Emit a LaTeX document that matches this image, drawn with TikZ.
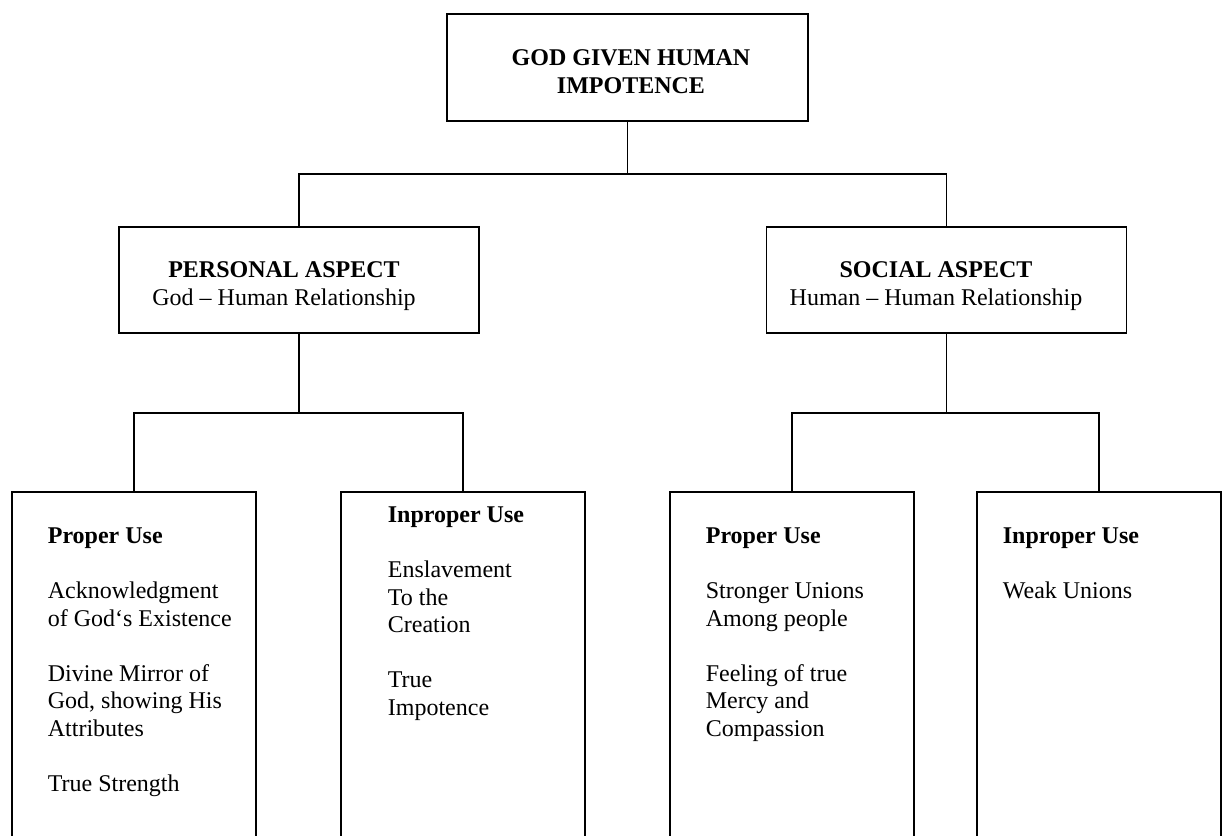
\documentclass[tikz,border=0pt]{standalone}
\usepackage{fontspec}
\setmainfont{Liberation Serif}
\begin{document}
\begin{tikzpicture}[x=0.5pt,y=-0.5pt,line width=0.85pt,
  topbox/.style={draw,minimum width=180.5pt,minimum height=53.5pt,inner sep=0pt},
  midbox/.style={draw,minimum width=180pt,minimum height=53pt,inner sep=0pt},
  lowbox/.style={draw,minimum width=122pt,minimum height=204pt,inner sep=0pt},
  txt/.style={font=\fontsize{12}{13.75}\selectfont,inner sep=0pt},
  ctxt/.style={txt,align=center},
  ltxt/.style={txt,align=left,anchor=north west}]
\fill[white] (0,0) rectangle (1222,836);
\clip (0,0) rectangle (1222,836);
% boxes
\node[topbox] (top) at (627.5,67.5) {};
\node[ctxt] (topT) at (631,71.5) {\textbf{GOD GIVEN HUMAN}\\\textbf{IMPOTENCE}};
\node[midbox] (pers) at (299,280) {};
\node[midbox] (soc) at (946.5,280) {};
\node[ctxt] (persT) at (284,286) {\textbf{PERSONAL ASPECT}\\God – Human Relationship};
\node[ctxt] (socT) at (936,286) {\textbf{SOCIAL ASPECT}\\Human – Human Relationship};
\node[lowbox] (b1) at (134,696) {};
\node[lowbox] (b2) at (463,696) {};
\node[lowbox] (b3) at (792,696) {};
\node[lowbox] (b4) at (1099,696) {};
% texts in lower boxes
\node[ltxt] (t1) at (47,527) {\textbf{Proper Use}\\[13.75pt]Acknowledgment\\of God‘s Existence\\[13.75pt]Divine Mirror of\\God, showing His\\Attributes\\[13.75pt]True Strength};
\node[ltxt] (t2) at (387,506) {\textbf{Inproper Use}\\[13.75pt]Enslavement\\To the\\Creation\\[13.75pt]True\\Impotence};
\node[ltxt] (t3) at (705,527) {\textbf{Proper Use}\\[13.75pt]Stronger Unions\\Among people\\[13.75pt]Feeling of true\\Mercy and\\Compassion};
\node[ltxt] (t4) at (1002,527) {\textbf{Inproper Use}\\[13.75pt]Weak Unions};
% connectors
\coordinate (j0) at (627.5,174);
\coordinate (j1) at (299,413);
\coordinate (j2) at (946.5,413);
\draw (top.south) -- (j0);
\draw (j0) -| (pers.north);
\draw (j0) -| (soc.north);
\draw (pers.south) -- (j1);
\draw (j1) -| (b1.north);
\draw (j1) -| (b2.north);
\draw (soc.south) -- (j2);
\draw (j2) -| (b3.north);
\draw (j2) -| (b4.north);
\end{tikzpicture}
\end{document}
